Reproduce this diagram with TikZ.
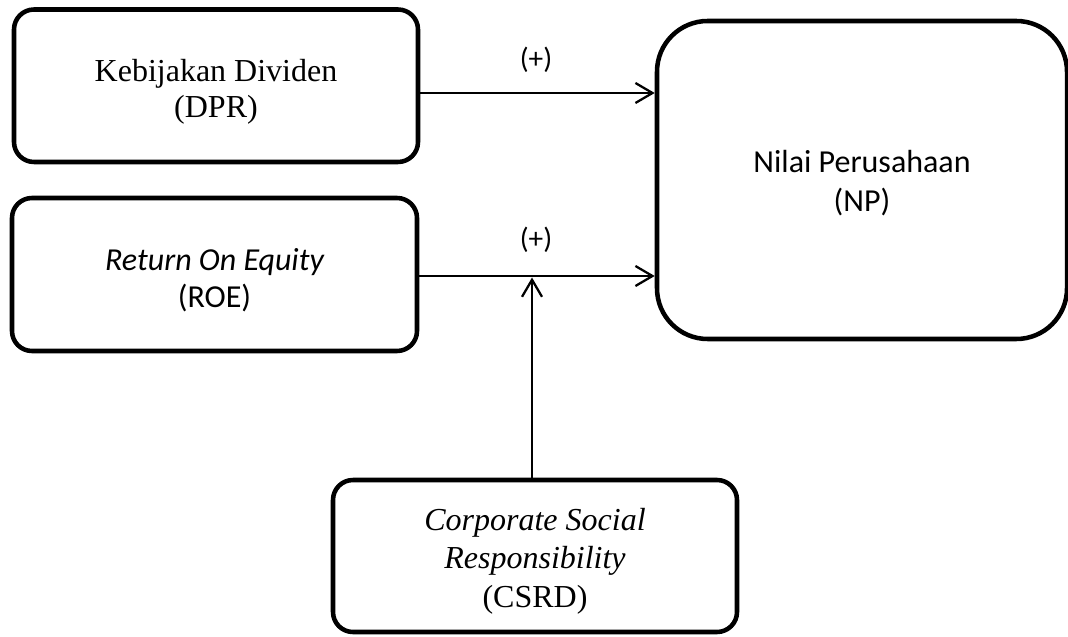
\documentclass[tikz,border=0pt]{standalone}
\usepackage{fontspec}
\setmainfont{Liberation Serif}
\newfontfamily\calfont{Carlito}
\usetikzlibrary{arrows.meta}
\begin{document}
\begin{tikzpicture}[x=0.375pt,y=-0.375pt,
  box/.style={draw=black,line width=1.7pt,rounded corners=7.5pt,inner sep=0pt},
  txt/.style={align=center,inner sep=0pt},
  arr/.style={draw=black,line width=0.85pt,-{Straight Barb[length=6.4pt,width=7.5pt,line width=0.85pt]}},
  lbl/.style={font=\calfont\fontsize{11pt}{13pt}\selectfont,inner sep=0pt}]
\useasboundingbox (0,0) rectangle (1068,637);
% boxes
\node[box,minimum width=404*0.375pt,minimum height=152.5*0.375pt] (DPR) at (216,85.75) {};
\node[box,minimum width=405*0.375pt,minimum height=153*0.375pt] (ROE) at (214.5,274.5) {};
\node[box,minimum width=404*0.375pt,minimum height=152*0.375pt] (CSR) at (535,556) {};
\node[box,rounded corners=19pt,minimum width=410*0.375pt,minimum height=318*0.375pt] (NP) at (862,180) {};
% texts
\node[txt,font=\fontsize{12pt}{13.4pt}\selectfont] (DPRt) at ([yshift=-6*0.375pt]DPR.center) {Kebijakan Dividen\\(DPR)};
\node[txt,font=\calfont\fontsize{12pt}{13.8pt}\selectfont] (ROEt) at ([yshift=-6*0.375pt]ROE.center) {\itshape Return On Equity\\(ROE)};
\node[txt,font=\fontsize{12pt}{14.4pt}\selectfont] (CSRt) at ([yshift=-5*0.375pt]CSR.center) {\itshape Corporate Social\\\itshape Responsibility\\(CSRD)};
\node[txt,font=\calfont\fontsize{12pt}{14.4pt}\selectfont] (NPt) at ([yshift=-3*0.375pt]NP.center) {Nilai Perusahaan\\(NP)};
% labels
\node[lbl] (p1) at (536,60) {(+)};
\node[lbl] (p2) at (536,240) {(+)};
% connectors
\coordinate (m) at (532,277.5);
\draw[arr] (DPR.east |- 0,93) -- (NP.west |- 0,93);
\draw[arr] (ROE.east |- 0,276) -- (NP.west |- 0,276);
\draw[arr,line width=1pt] (CSR.north -| m) -- (m);
\end{tikzpicture}
\end{document}
